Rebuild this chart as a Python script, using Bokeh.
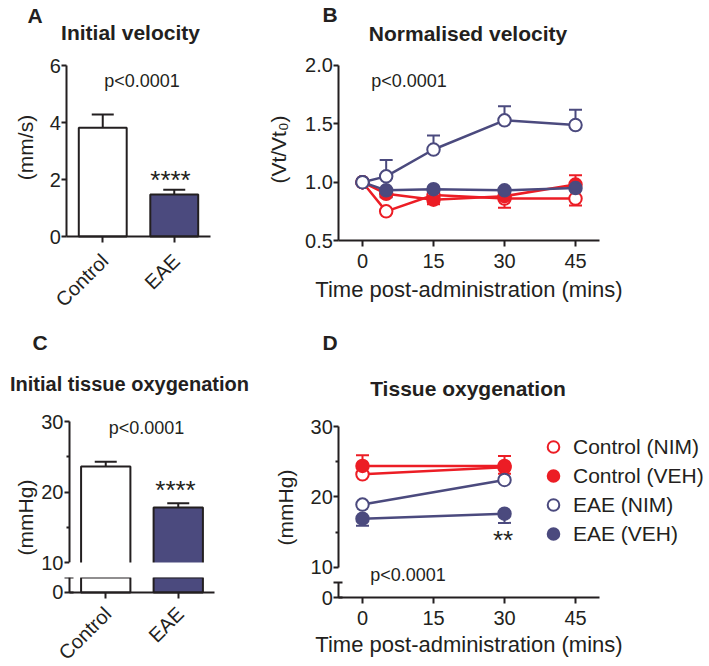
from math import pi
from bokeh.plotting import figure
from bokeh.core.properties import value
from bokeh.models import (ColumnDataSource, Range1d, FactorRange, FixedTicker, Whisker, TeeHead,
                          Label, LabelSet, Legend, LegendItem, LinearAxis, CategoricalAxis,
                          PrintfTickFormatter, BoxAnnotation, Spacer)
from bokeh.layouts import row, column
from bokeh.embed import file_html
from bokeh.resources import INLINE

# ---------------- data ----------------
groups = ["Control", "EAE"]
init_velocity = [3.82, 1.47]
init_velocity_sem = [0.46, 0.17]

oxy_initial = [23.6, 17.8]
oxy_initial_sem = [0.7, 0.6]

series_names = ["Control (NIM)", "Control (VEH)", "EAE (NIM)", "EAE (VEH)"]

time_b = [0, 5, 15, 30, 45]
ctrl_nim_b = [1.00, 0.75, 0.89, 0.86, 0.86]
ctrl_veh_b = [1.00, 0.90, 0.85, 0.88, 0.98]
eae_nim_b = [1.00, 1.05, 1.28, 1.53, 1.49]
eae_veh_b = [1.00, 0.93, 0.94, 0.93, 0.95]
ctrl_nim_b_up = [0, 0, 0, 0, 0]
ctrl_nim_b_dn = [0, 0, 0, 0.08, 0.06]
ctrl_veh_b_up = [0, 0, 0, 0, 0.08]
ctrl_veh_b_dn = [0, 0, 0.04, 0, 0]
eae_nim_b_up = [0, 0.14, 0.12, 0.12, 0.13]
eae_nim_b_dn = [0, 0, 0, 0, 0]
eae_veh_b_up = [0, 0, 0, 0, 0]
eae_veh_b_dn = [0, 0.06, 0, 0, 0]

time_d = [0, 30]
ctrl_nim_d = [23.2, 24.2]
ctrl_veh_d = [24.4, 24.4]
eae_nim_d = [18.9, 22.4]
eae_veh_d = [16.9, 17.6]
ctrl_nim_d_up = [0, 0]
ctrl_nim_d_dn = [0, 0.9]
ctrl_veh_d_up = [1.5, 1.4]
ctrl_veh_d_dn = [0, 0]
eae_nim_d_up = [0, 0]
eae_nim_d_dn = [0, 0]
eae_veh_d_up = [0, 0]
eae_veh_d_dn = [1.0, 1.3]

y_ticks_a = [0, 2, 4, 6]
y_ticks_b = [0.5, 1.0, 1.5, 2.0]
y_ticks_cd = [10, 20, 30]
y_minor_cd = [15, 25]
y_ticks_break = [0, 2]
x_ticks_time = [0, 15, 30, 45]

# ---------------- style ----------------
NAVY = "#4b4a7e"
RED = "#ec1d25"
INK = "#231f20"
FONT = "Liberation Sans"


def make_fig(width, height, x_range, y_range, top=0, bottom=0):
    p = figure(width=width, height=height, x_range=x_range, y_range=y_range,
               output_backend="svg", toolbar_location=None,
               x_axis_location=None, y_axis_location=None,
               min_border_left=0, min_border_right=0,
               min_border_top=top, min_border_bottom=bottom)
    p.outline_line_color = None
    p.grid.visible = False
    p.background_fill_color = "white"
    p.border_fill_color = "white"
    return p


def style_axis(ax, vertical):
    ax.axis_line_width = 2
    ax.axis_line_color = INK
    ax.major_tick_line_width = 2
    ax.major_tick_line_color = INK
    ax.minor_tick_line_color = None
    ax.major_tick_in = 0
    ax.major_tick_out = 5 if vertical else 6
    ax.major_label_text_font = FONT
    ax.major_label_text_font_size = "20px"
    ax.major_label_text_color = INK
    ax.major_label_standoff = 1 if vertical else 7
    ax.axis_label_text_font = FONT
    ax.axis_label_text_font_size = "22px"
    ax.axis_label_text_font_style = "normal"
    ax.axis_label_text_color = INK
    ax.axis_label_standoff = 6
    return ax


def y_axis(p, loc, bounds, ticks, minor=None, range_name="default"):
    ax = LinearAxis(fixed_location=loc, bounds=bounds, y_range_name=range_name,
                    ticker=FixedTicker(ticks=ticks, minor_ticks=minor or []))
    style_axis(ax, True)
    if minor:
        ax.minor_tick_line_color = INK
        ax.minor_tick_line_width = 2
        ax.minor_tick_in = 0
        ax.minor_tick_out = 3
    p.add_layout(ax, "left")
    return ax


def text(p, txt, x, y, size, bold=False, align="center", angle=0.0):
    # x, y: screen pixels from the frame's bottom-left corner
    p.add_layout(Label(x=x, y=y, x_units="screen", y_units="screen", text=txt, angle=angle,
                       text_font=FONT, text_font_size=size, text_color=INK,
                       text_font_style="bold" if bold else "normal",
                       text_align=align, text_baseline="middle"))


def errors(p, xs, ys, up, dn, color, head):
    ux = [x for x, u in zip(xs, up) if u > 0]
    uy = [y for y, u in zip(ys, up) if u > 0]
    uh = [y + u for y, u in zip(ys, up) if u > 0]
    if ux:
        src = ColumnDataSource(dict(x=ux, lo=uy, hi=uh))
        p.add_layout(Whisker(source=src, base="x", lower="lo", upper="hi", dimension="height",
                             line_color=color, line_width=2, lower_head=None,
                             upper_head=TeeHead(size=head, line_color=color, line_width=2)))
    dx = [x for x, d in zip(xs, dn) if d > 0]
    dy = [y for y, d in zip(ys, dn) if d > 0]
    dl = [y - d for y, d in zip(ys, dn) if d > 0]
    if dx:
        src = ColumnDataSource(dict(x=dx, lo=dl, hi=dy))
        p.add_layout(Whisker(source=src, base="x", lower="lo", upper="hi", dimension="height",
                             line_color=color, line_width=2, upper_head=None,
                             lower_head=TeeHead(size=head, line_color=color, line_width=2)))


def series(p, xs, ys, up, dn, color, filled):
    errors(p, xs, ys, up, dn, color, 13)
    p.line(xs, ys, line_color=color, line_width=2.5)
    return p.scatter(xs, ys, marker="circle", size=12.5, line_color=color, line_width=2,
                     fill_color=color if filled else "white")


def cat_axis(p, dy):
    ax = CategoricalAxis(fixed_location=0, bounds=(0, len(groups)))
    style_axis(ax, False)
    ax.major_label_text_color = None
    p.add_layout(ax, "below")
    # rotated category names
    p.add_layout(LabelSet(source=ColumnDataSource(dict(g=groups)), x="g", y=0, text="g",
                          angle=pi / 4, x_offset=2, y_offset=dy,
                          text_align="right", text_baseline="middle",
                          text_font=value(FONT), text_font_size="20px", text_color=INK))
    return ax


bar_fill = ["white", NAVY]

# ---------------- Panel A ----------------
pA = make_fig(260, 330, FactorRange(factors=groups, range_padding=0.818), Range1d(-3.298, 8.281))
y_axis(pA, 0, (0, 6), y_ticks_a)
cat_axis(pA, -21)
src_a = ColumnDataSource(dict(g=groups, v=init_velocity, e=init_velocity_sem, fill=bar_fill))
errors(pA, groups, init_velocity, init_velocity_sem, [0, 0], INK, 22)
pA.vbar(x="g", top="v", bottom=0, width=0.67, source=src_a, fill_color="fill",
        line_color=INK, line_width=2)
text(pA, "A", 19, 315, "21px", bold=True, align="left")
text(pA, "Initial velocity", 122, 298, "21px", bold=True)
text(pA, "(mm/s)", 17, 183, "21px", angle=pi / 2)
text(pA, "p<0.0001", 133.5, 250, "18px")
text(pA, "****", 162, 151, "26px")

# ---------------- Panel B ----------------
pB = make_fig(441, 330, Range1d(-19.86, 73.31), Range1d(-0.271, 2.557))
yb = y_axis(pB, -5, (0.5, 2.0), y_ticks_b)
yb.formatter = PrintfTickFormatter(format="%.1f")
xb = LinearAxis(fixed_location=0.5, bounds=(-5, 50), ticker=FixedTicker(ticks=x_ticks_time),
                axis_label="Time post-administration (mins)")
style_axis(xb, False)
pB.add_layout(xb, "below")
series(pB, time_b, ctrl_nim_b, ctrl_nim_b_up, ctrl_nim_b_dn, RED, False)
series(pB, time_b, ctrl_veh_b, ctrl_veh_b_up, ctrl_veh_b_dn, RED, True)
series(pB, time_b, eae_veh_b, eae_veh_b_up, eae_veh_b_dn, NAVY, True)
series(pB, time_b, eae_nim_b, eae_nim_b_up, eae_nim_b_dn, NAVY, False)
text(pB, "B", 54, 316, "21px", bold=True, align="left")
text(pB, "Normalised velocity", 199.5, 297, "21px", bold=True)
text(pB, "(Vt/Vt\u2080)", 10, 181, "21px", angle=pi / 2)
text(pB, "p<0.0001", 140.5, 250, "18px")

# ---------------- Panel C (broken axis: two stacked plots) ----------------
xr_c = FactorRange(factors=groups, range_padding=0.841)
pCt = make_fig(267, 244, xr_c, Range1d(8.298, 42.908))
y_axis(pCt, 0, (10, 30), y_ticks_cd, minor=y_minor_cd)
src_c = ColumnDataSource(dict(g=groups, v=oxy_initial, e=oxy_initial_sem, fill=bar_fill))
errors(pCt, groups, oxy_initial, oxy_initial_sem, [0, 0], INK, 22)
pCt.vbar(x="g", top="v", bottom=0, width=0.68, source=src_c, fill_color="fill",
         line_color=INK, line_width=2)
# axis break: blank out the bars below the upper segment
pCt.add_layout(BoxAnnotation(top=10, left=0, fill_color="white", fill_alpha=1, line_color=None))
text(pCt, "C", 24, 232, "21px", bold=True, align="left")
text(pCt, "Initial tissue oxygenation", 121, 191, "20px", bold=True)
text(pCt, "(mmHg)", 17, 57, "21px", angle=pi / 2)
text(pCt, "p<0.0001", 138, 147, "18px")
text(pCt, "****", 167, 85, "26px")

pCb = make_fig(267, 92, xr_c, Range1d(-9.867, 2), top=3)
ycb = y_axis(pCb, 0, (0, 2), y_ticks_break)
ycb.major_label_overrides = {2: ""}
ycb.major_tick_in = 4
cat_axis(pCb, -18)
pCb.vbar(x="g", top="v", bottom=0, width=0.68, source=src_c, fill_color="fill",
         line_color=INK, line_width=2)

# ---------------- Panel D (broken axis: two y ranges) ----------------
pD = make_fig(434, 336, Range1d(-18.38, 73.31), Range1d(-4.115, 43.646))
pD.extra_y_ranges = {"low": Range1d(-9.2, 35.6)}
y_axis(pD, -5, (10, 30), y_ticks_cd, minor=y_minor_cd)
ydl = y_axis(pD, -5, (0, 2), y_ticks_break, range_name="low")
ydl.major_label_overrides = {2: ""}
ydl.major_tick_in = 4
xd = LinearAxis(y_range_name="low", fixed_location=0, bounds=(-5, 50),
                ticker=FixedTicker(ticks=x_ticks_time), axis_label="Time post-administration (mins)")
style_axis(xd, False)
xd.axis_label_standoff = 4
pD.add_layout(xd, "below")
r1 = series(pD, time_d, ctrl_nim_d, ctrl_nim_d_up, ctrl_nim_d_dn, RED, False)
r2 = series(pD, time_d, ctrl_veh_d, ctrl_veh_d_up, ctrl_veh_d_dn, RED, True)
r4 = series(pD, time_d, eae_veh_d, eae_veh_d_up, eae_veh_d_dn, NAVY, True)
r3 = series(pD, time_d, eae_nim_d, eae_nim_d_up, eae_nim_d_dn, NAVY, False)
legend = Legend(items=[LegendItem(label=n, renderers=[r]) for n, r in zip(series_names, [r1, r2, r3, r4])],
                location=(262, 118), glyph_width=32, glyph_height=29, label_height=29,
                spacing=0, label_standoff=4, padding=0, margin=0,
                border_line_color=None, background_fill_alpha=0,
                label_text_font=FONT, label_text_font_size="21px", label_text_color=INK)
pD.add_layout(legend)
text(pD, "D", 47, 324, "21px", bold=True, align="left")
text(pD, "Tissue oxygenation", 192.5, 278, "21px", bold=True)
text(pD, "(mmHg)", 10, 159, "21px", angle=pi / 2)
text(pD, "**", 227.5, 127, "26px")
text(pD, "p<0.0001", 132.5, 92, "18px")

layout = row(Spacer(width=8, height=10),
             column(row(pA, pB), row(column(pCt, pCb), pD)))
open("out.html", "w").write(file_html(layout, INLINE))
